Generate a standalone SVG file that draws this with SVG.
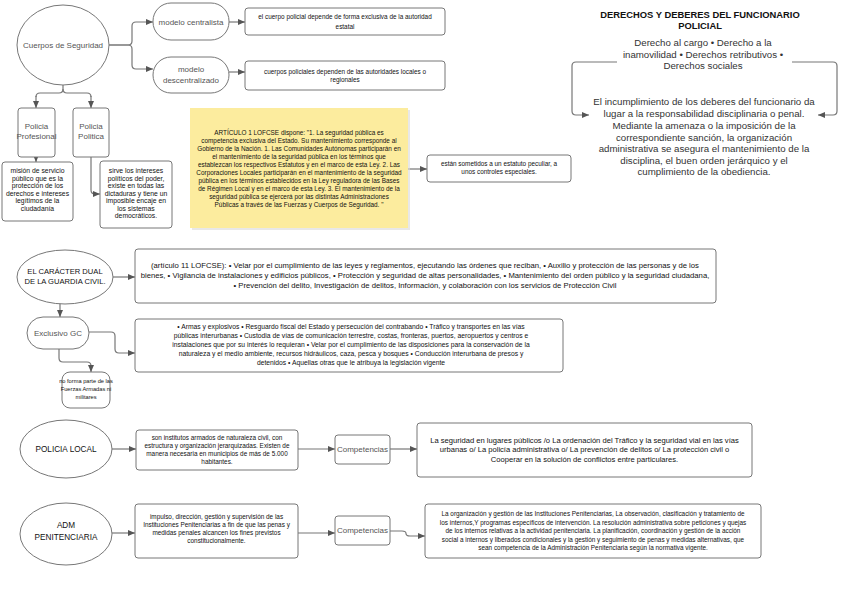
<svg xmlns="http://www.w3.org/2000/svg" width="848" height="599" viewBox="0 0 848 599">
<defs>
<marker id="ah" markerWidth="7" markerHeight="6" refX="7" refY="3" orient="auto" markerUnits="userSpaceOnUse">
<path d="M0,0 L7,3 L0,6 z" fill="#555"/>
</marker>
<style>
.sh{fill:#fff;stroke:#777;stroke-width:1}
.bx{fill:#fff;stroke:#777;stroke-width:1}
.cn{fill:none;stroke:#777;stroke-width:1.2;marker-end:url(#ah)}
.ln{fill:none;stroke:#777;stroke-width:1.2}
text{font-family:"Liberation Sans",Arial,sans-serif;text-anchor:middle}
.t1{font-size:8px;fill:#555}
.t2{font-size:6.4px;fill:#111}
.t3{font-size:6.8px;fill:#111}
.t4{font-size:7.7px;fill:#111}
.t5{font-size:9.7px;fill:#333}
.t6{font-size:6.75px;fill:#111}
.t7{font-size:5.7px;fill:#111}
.tt{font-size:9.4px;font-weight:bold;fill:#111}
.tk{font-size:7.6px;fill:#111}
</style>
</defs>
<rect width="848" height="599" fill="#fff"/>
<g id="connectors">
<path class="cn" d="M109,45 H128 Q132,45 132,41 V26 Q132,22 136,22 H153"/>
<path class="cn" d="M109,45 H128 Q132,45 132,49 V65 Q132,69 136,69 H153"/>
<path class="cn" d="M229,22 H245"/>
<path class="cn" d="M229,72 H245"/>
<path class="ln" d="M63,85 V89 Q63,93 59,93 H40 Q36,93 36,97"/>
<path class="cn" d="M36,96 V108"/>
<path class="ln" d="M63,89 Q63,93 67,93 H87 Q91,93 91,97"/>
<path class="cn" d="M91,96 V108"/>
<path class="cn" d="M36,156 V162"/>
<path class="cn" d="M91,157 V190 Q91,194 95,194 H100"/>
<path class="cn" d="M408,169 H427"/>
<path class="cn" d="M617,62 H576 Q572,62 572,66 V111 Q572,115 576,115 H589"/>
<path class="cn" d="M792,62 H833 Q837,62 837,66 V111 Q837,115 833,115 H818"/>
<path class="cn" d="M113,277 H135"/>
<path class="cn" d="M60,303 V317"/>
<path class="cn" d="M89,332 H111 Q115,332 115,336 V349 Q115,353 119,353 H135"/>
<path class="ln" d="M59,349 V358 Q59,362 63,362 H87 Q91,362 91,366"/>
<path class="cn" d="M91,365 V372"/>
<path class="cn" d="M112,449 H136"/>
<path class="cn" d="M298,449 H335"/>
<path class="cn" d="M390,449 H417"/>
<path class="cn" d="M112,533 H135"/>
<path class="cn" d="M298,533 H335"/>
<path class="cn" d="M390,531 H402 Q406,531 406,533.5 Q406,536 410,536 H425"/>
</g>
<g id="cuerpos">
<ellipse class="sh" cx="63" cy="45" rx="46" ry="40"/>
<text class="t1" x="63" y="48">Cuerpos de Seguridad</text>
</g>
<g id="centralista">
<rect class="sh" x="153" y="3" width="76" height="37" rx="18"/>
<text class="t1" x="191" y="25">modelo centralista</text>
</g>
<g id="descentralizado">
<rect class="sh" x="153" y="57" width="76" height="36" rx="18"/>
<text class="t1" x="191" y="72">modelo</text>
<text class="t1" x="191" y="83">descentralizado</text>
</g>
<g id="box-centralista">
<rect class="bx" x="245" y="8" width="200" height="27" rx="3"/>
<text class="t2" x="345" y="19">el cuerpo policial depende de forma exclusiva de la autoridad</text>
<text class="t2" x="345" y="29">estatal</text>
</g>
<g id="box-descentralizado">
<rect class="bx" x="245" y="61" width="200" height="29" rx="3"/>
<text class="t2" x="345" y="74">cuerpos policiales dependen de las autoridades locales o</text>
<text class="t2" x="345" y="82">regionales</text>
</g>
<g id="profesional">
<rect class="bx" x="18" y="108" width="37" height="49" rx="3"/>
<text class="t1" x="36.5" y="129">Policia</text>
<text class="t1" x="36.5" y="139">Profesional</text>
</g>
<g id="politica">
<rect class="bx" x="73" y="108" width="36" height="49" rx="3"/>
<text class="t1" x="91" y="129">Policia</text>
<text class="t1" x="91" y="139">Politica</text>
</g>
<g id="mision">
<rect class="bx" x="2" y="162" width="71" height="59" rx="3"/>
<text class="t3" x="37.5" y="173">misión de servicio</text>
<text class="t3" x="37.5" y="180.5">público que es la</text>
<text class="t3" x="37.5" y="188">protección de los</text>
<text class="t3" x="37.5" y="195.5">derechos e intereses</text>
<text class="t3" x="37.5" y="203">legítimos de la</text>
<text class="t3" x="37.5" y="210.5">ciudadanía</text>
</g>
<g id="sirve">
<rect class="bx" x="100" y="161" width="72" height="67" rx="3"/>
<text class="t3" x="136" y="173">sirve los intereses</text>
<text class="t3" x="136" y="180.5">políticos del poder,</text>
<text class="t3" x="136" y="188">existe en todas las</text>
<text class="t3" x="136" y="195.5">dictaduras y tiene un</text>
<text class="t3" x="136" y="203">imposible encaje en</text>
<text class="t3" x="136" y="210.5">los sistemas</text>
<text class="t3" x="136" y="218">democráticos.</text>
</g>
<g id="articulo">
<rect x="192" y="110" width="218" height="120" fill="#d8d8d8" opacity="0.6"/>
<rect x="190" y="108" width="218" height="120" fill="#fcec9e"/>
<text class="t2" x="299" y="135">ARTÍCULO 1 LOFCSE dispone: "1. La seguridad pública es</text>
<text class="t2" x="299" y="143">competencia exclusiva del Estado. Su mantenimiento corresponde al</text>
<text class="t2" x="299" y="151">Gobierno de la Nación. 1. Las Comunidades Autónomas participarán en</text>
<text class="t2" x="299" y="159">el mantenimiento de la seguridad pública en los términos que</text>
<text class="t2" x="299" y="167">establezcan los respectivos Estatutos y en el marco de esta Ley. 2. Las</text>
<text class="t2" x="299" y="175">Corporaciones Locales participarán en el mantenimiento de la seguridad</text>
<text class="t2" x="299" y="183">pública en los términos establecidos en la Ley reguladora de las Bases</text>
<text class="t2" x="299" y="191">de Régimen Local y en el marco de esta Ley. 3. El mantenimiento de la</text>
<text class="t2" x="299" y="199">seguridad pública se ejercerá por las distintas Administraciones</text>
<text class="t2" x="299" y="207">Públicas a través de las Fuerzas y Cuerpos de Seguridad. "</text>
</g>
<g id="sometidos">
<rect class="bx" x="427" y="155" width="144" height="27" rx="3"/>
<text class="t2" x="499" y="166">están sometidos a un estatuto peculiar, a</text>
<text class="t2" x="499" y="174">unos controles especiales.</text>
</g>
<g id="derechos-title">
<text class="tt" x="700" y="18">DERECHOS Y DEBERES DEL FUNCIONARIO</text>
<text class="tt" x="700" y="29">POLICIAL</text>
</g>
<g id="derechos">
<text class="t5" x="703" y="46">Derecho al cargo • Derecho a la</text>
<text class="t5" x="703" y="58">inamovilidad • Derechos retributivos •</text>
<text class="t5" x="703" y="69">Derechos sociales</text>
</g>
<g id="deberes">
<text class="t5" x="704" y="105">El incumplimiento de los deberes del funcionario da</text>
<text class="t5" x="704" y="117">lugar a la responsabilidad disciplinaria o penal.</text>
<text class="t5" x="704" y="129">Mediante la amenaza o la imposición de la</text>
<text class="t5" x="704" y="141">correspondiente sanción, la organización</text>
<text class="t5" x="704" y="152">administrativa se asegura el mantenimiento de la</text>
<text class="t5" x="704" y="164">disciplina, el buen orden jerárquico y el</text>
<text class="t5" x="704" y="175">cumplimiento de la obediencia.</text>
</g>
<g id="dual">
<ellipse class="sh" cx="65" cy="277" rx="48" ry="27"/>
<text class="tk" x="65" y="274">EL CARÁCTER DUAL</text>
<text class="tk" x="65" y="284">DE LA GUARDIA CIVIL.</text>
</g>
<g id="box-art11">
<rect class="bx" x="135" y="249" width="581" height="54" rx="3"/>
<text class="t4" x="425" y="268">(artículo 11 LOFCSE): • Velar por el cumplimiento de las leyes y reglamentos, ejecutando las órdenes que reciban, • Auxilio y protección de las personas y de los</text>
<text class="t4" x="425" y="278">bienes, • Vigilancia de instalaciones y edificios públicos, • Protección y seguridad de altas personalidades, • Mantenimiento del orden público y la seguridad ciudadana,</text>
<text class="t4" x="425" y="288">• Prevención del delito, Investigación de delitos, Información, y colaboración con los servicios de Protección Civil</text>
</g>
<g id="exclusivo">
<rect class="sh" x="27" y="317" width="62" height="32" rx="16"/>
<text class="t1" x="58" y="336">Exclusivo GC</text>
</g>
<g id="box-armas">
<rect class="bx" x="135" y="319" width="428" height="53" rx="3"/>
<text class="t6" x="351" y="329">• Armas y explosivos • Resguardo fiscal del Estado y persecución del contrabando • Tráfico y transportes en las vías</text>
<text class="t6" x="351" y="338">públicas interurbanas • Custodia de vías de comunicación terrestre, costas, fronteras, puertos, aeropuertos y centros e</text>
<text class="t6" x="351" y="347">instalaciones que por su interés lo requieran • Velar por el cumplimiento de las disposiciones para la conservación de la</text>
<text class="t6" x="351" y="356">naturaleza y el medio ambiente, recursos hidráulicos, caza, pesca y bosques • Conducción interurbana de presos y</text>
<text class="t6" x="351" y="365">detenidos • Aquellas otras que le atribuya la legislación vigente</text>
</g>
<g id="noforma">
<rect class="bx" x="62" y="372" width="48" height="36" rx="8"/>
<text class="t7" x="86" y="383">no forma parte de las</text>
<text class="t7" x="86" y="391">Fuerzas Armadas ni</text>
<text class="t7" x="86" y="399">militares</text>
</g>
<g id="local">
<ellipse class="sh" cx="66" cy="449" rx="46" ry="29"/>
<text class="tk" x="66" y="452" style="font-size:8.2px">POLICIA LOCAL</text>
</g>
<g id="box-local">
<rect class="bx" x="136" y="430" width="162" height="40" rx="3"/>
<text class="t2" x="217" y="440">son institutos armados de naturaleza civil, con</text>
<text class="t2" x="217" y="448">estructura y organización jerarquizadas. Existen de</text>
<text class="t2" x="217" y="456">manera necesaria en municipios de más de 5.000</text>
<text class="t2" x="217" y="464">habitantes.</text>
</g>
<g id="comp-local">
<rect class="bx" x="335" y="435" width="55" height="29" rx="3"/>
<text class="t1" x="362.5" y="452">Competencias</text>
</g>
<g id="box-comp-local">
<rect class="bx" x="417" y="423" width="335" height="54" rx="3"/>
<text class="t4" x="584.5" y="443" style="font-size:7.6px">La seguridad en lugares públicos /o La ordenación del Tráfico y la seguridad vial en las vías</text>
<text class="t4" x="584.5" y="452" style="font-size:7.6px">urbanas o/ La policía administrativa o/ La prevención de delitos o/ La protección civil o</text>
<text class="t4" x="584.5" y="462" style="font-size:7.6px">Cooperar en la solución de conflictos entre particulares.</text>
</g>
<g id="adm">
<ellipse class="sh" cx="66" cy="534" rx="46" ry="31"/>
<text class="tk" x="66" y="528" style="font-size:8.2px">ADM</text>
<text class="tk" x="66" y="540" style="font-size:8.2px">PENITENCIARIA</text>
</g>
<g id="box-adm">
<rect class="bx" x="135" y="504" width="163" height="54" rx="3"/>
<text class="t2" x="216.5" y="519">impulso, dirección, gestión y supervisión de las</text>
<text class="t2" x="216.5" y="527">Instituciones Penitenciarias a fin de que las penas y</text>
<text class="t2" x="216.5" y="535">medidas penales alcancen los fines previstos</text>
<text class="t2" x="216.5" y="543">constitucionalmente.</text>
</g>
<g id="comp-adm">
<rect class="bx" x="335" y="516" width="55" height="29" rx="3"/>
<text class="t1" x="362.5" y="533">Competencias</text>
</g>
<g id="box-comp-adm">
<rect class="bx" x="425" y="504" width="336" height="54" rx="3"/>
<text class="t2" x="593" y="516">La organización y gestión de las Instituciones Penitenciarias, La observación, clasificación y tratamiento de</text>
<text class="t2" x="593" y="524.5">los internos,Y programas específicos de intervención. La resolución administrativa sobre peticiones y quejas</text>
<text class="t2" x="593" y="533">de los internos relativas a la actividad penitenciaria. La planificación, coordinación y gestión de la acción</text>
<text class="t2" x="593" y="541.5">social a internos y liberados condicionales y la gestión y seguimiento de penas y medidas alternativas, que</text>
<text class="t2" x="593" y="550">sean competencia de la Administración Penitenciaria según la normativa vigente.</text>
</g>
</svg>
